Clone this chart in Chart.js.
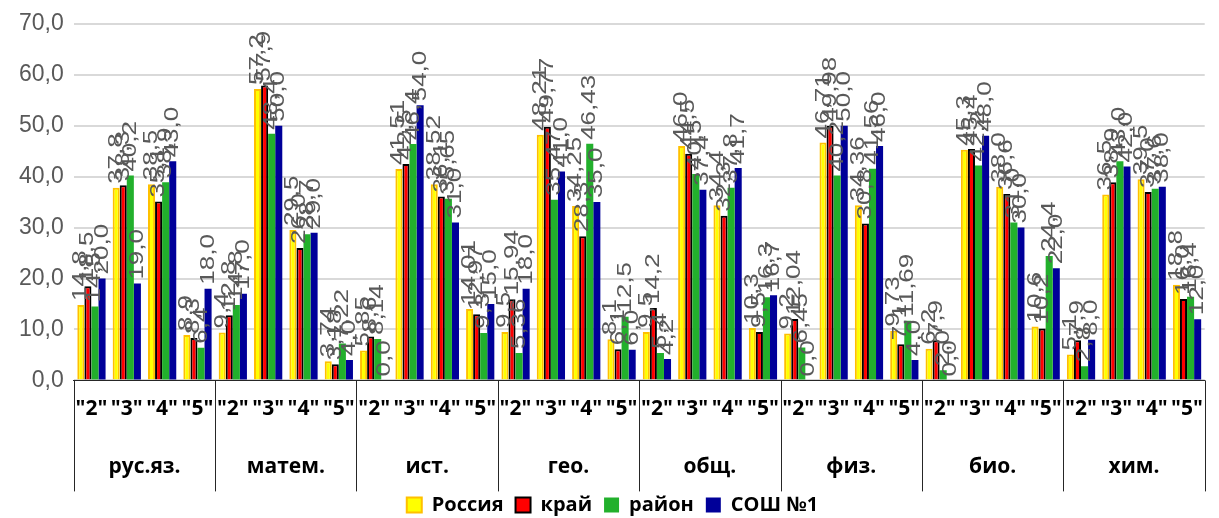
<!DOCTYPE html>
<html>
<head>
    <title>Успеваемость по предметам</title>
    <script src="https://cdn.jsdelivr.net/npm/chart.js"></script>
    <style>
        body {
            margin: 0;
            background-color: #ffffff;
        }
        #chart-container {
            width: 1219px;
            height: 518px;
        }
    </style>
</head>
<body>

<div id="chart-container">
    <canvas id="gradeChart" width="1219" height="518"></canvas>
</div>

<script>
// Subjects and grades (x axis has two levels)
const subjects = ['рус.яз.', 'матем.', 'ист.', 'гео.', 'общ.', 'физ.', 'био.', 'хим.'];
const grades = ['"2"', '"3"', '"4"', '"5"'];

// Values per series, 4 grades for every subject in order
const russia = [14.8, 37.8, 38.5, 8.9,  9.4, 57.2, 29.5, 3.74,  5.85, 41.51, 38.52, 14.01,  9.5, 48.21, 34.25, 8.1,
                9.5, 46.0, 34.4, 10.3,  9.2, 46.71, 34.36, 9.73,  6.2, 45.3, 38.0, 10.6,  5.1, 36.5, 39.5, 18.8];
const krai   = [18.5, 38.3, 35.1, 8.3,  12.8, 57.9, 26.0, 3.18,  8.6, 42.5, 36.1, 12.97,  15.94, 49.77, 28.3, 6.1,
                14.2, 44.5, 32.3, 9.5,  12.04, 49.98, 30.8, 7.1,  7.9, 45.4, 36.6, 10.2,  7.9, 38.9, 37.0, 16.0];
const raion  = [14.5, 40.2, 38.9, 6.4,  14.8, 48.4, 28.7, 7.22,  8.14, 46.4, 35.65, 9.3,  5.36, 35.47, 46.43, 12.5,
                5.4, 40.5, 37.8, 16.3,  6.45, 40.2, 41.56, 11.69,  2.0, 42.2, 31.0, 24.4,  2.8, 43.0, 37.6, 16.4];
const school = [20.0, 19.0, 43.0, 18.0,  17.0, 50.0, 29.0, 4.0,  0.0, 54.0, 31.0, 15.0,  18.0, 41.0, 35.0, 6.0,
                4.2, 37.4, 41.7, 16.7,  0.0, 50.0, 46.0, 4.0,  0.0, 48.0, 30.0, 22.0,  8.0, 42.0, 38.0, 12.0];

const labels = subjects.flatMap(() => grades);

// "20" -> "20,0", "3.74" -> "3,74"
function fmt(v) {
    const s = Number.isInteger(v) ? v.toFixed(1) : String(v);
    return s.replace('.', ',');
}

// rotated value labels above every bar
const valueLabels = {
    id: 'valueLabels',
    afterDatasetsDraw(chart) {
        const ctx = chart.ctx;
        ctx.save();
        ctx.font = '20px "Liberation Sans"';
        ctx.fillStyle = '#595959';
        ctx.textAlign = 'left';
        ctx.textBaseline = 'middle';
        chart.data.datasets.forEach((ds, i) => {
            chart.getDatasetMeta(i).data.forEach((bar, j) => {
                ctx.save();
                ctx.translate(bar.x, bar.y - 4);
                ctx.rotate(-Math.PI / 2);
                ctx.scale(1.3, 1);
                ctx.fillText(fmt(ds.data[j]), 0, 0);
                ctx.restore();
            });
        });
        ctx.restore();
    }
};

// subject names under the grades + vertical separators between groups
const subjectAxis = {
    id: 'subjectAxis',
    afterDraw(chart) {
        const x = chart.scales.x;
        const ctx = chart.ctx;
        const step = x.width / subjects.length;
        ctx.save();
        ctx.strokeStyle = '#262626';
        ctx.lineWidth = 1;
        for (let k = 0; k <= subjects.length; k++) {
            const px = Math.round(x.left + k * step) + 0.5;
            ctx.beginPath();
            ctx.moveTo(px, x.top);
            ctx.lineTo(px, x.top + 111);
            ctx.stroke();
        }
        ctx.fillStyle = '#000000';
        ctx.font = 'bold 21px "Open Sans"';
        ctx.textAlign = 'center';
        ctx.textBaseline = 'middle';
        subjects.forEach((s, k) => {
            ctx.fillText(s, x.left + (k + 0.5) * step, x.top + 87);
        });
        ctx.restore();
    }
};

const ctx = document.getElementById('gradeChart').getContext('2d');
new Chart(ctx, {
    type: 'bar',
    data: {
        labels: labels,
        datasets: [
            { label: 'Россия', data: russia, backgroundColor: '#ffff00', borderColor: '#ffc000', borderWidth: 2 },
            { label: 'край', data: krai, backgroundColor: '#ff0000', borderColor: '#000000', borderWidth: 2 },
            { label: 'район', data: raion, backgroundColor: '#22b02c', borderColor: '#22b02c', borderWidth: 0 },
            { label: 'СОШ №1', data: school, backgroundColor: '#000099', borderColor: '#000099', borderWidth: 0 }
        ]
    },
    options: {
        responsive: false,
        animation: false,
        devicePixelRatio: 1,
        layout: { padding: { left: 9, right: 3, top: 10, bottom: -7 } },
        datasets: {
            bar: { categoryPercentage: 0.8, barPercentage: 1.0 }
        },
        plugins: {
            tooltip: { enabled: false },
            legend: {
                position: 'bottom',
                labels: {
                    boxWidth: 15,
                    boxHeight: 15,
                    padding: 12,
                    color: '#000000',
                    font: { family: '"Open Sans"', size: 20, weight: 'bold' }
                }
            }
        },
        scales: {
            x: {
                grid: { display: false, drawTicks: false },
                border: { display: true, color: '#262626', width: 1 },
                ticks: {
                    autoSkip: false,
                    maxRotation: 0,
                    padding: 16,
                    color: '#000000',
                    font: { family: '"Open Sans"', size: 21, weight: 'bold' }
                },
                // blank title only reserves room for the subject row
                title: {
                    display: true,
                    text: ' ',
                    font: { size: 2 },
                    padding: { top: 0, bottom: 43 }
                }
            },
            y: {
                min: 0,
                max: 70,
                ticks: {
                    stepSize: 10,
                    padding: 10,
                    color: '#595959',
                    font: { family: '"Liberation Sans"', size: 23 },
                    callback: (v) => v.toFixed(1).replace('.', ',')
                },
                grid: { color: '#d9d9d9', lineWidth: 2, drawTicks: false },
                border: { display: false }
            }
        }
    },
    plugins: [valueLabels, subjectAxis]
});
</script>

</body>
</html>
